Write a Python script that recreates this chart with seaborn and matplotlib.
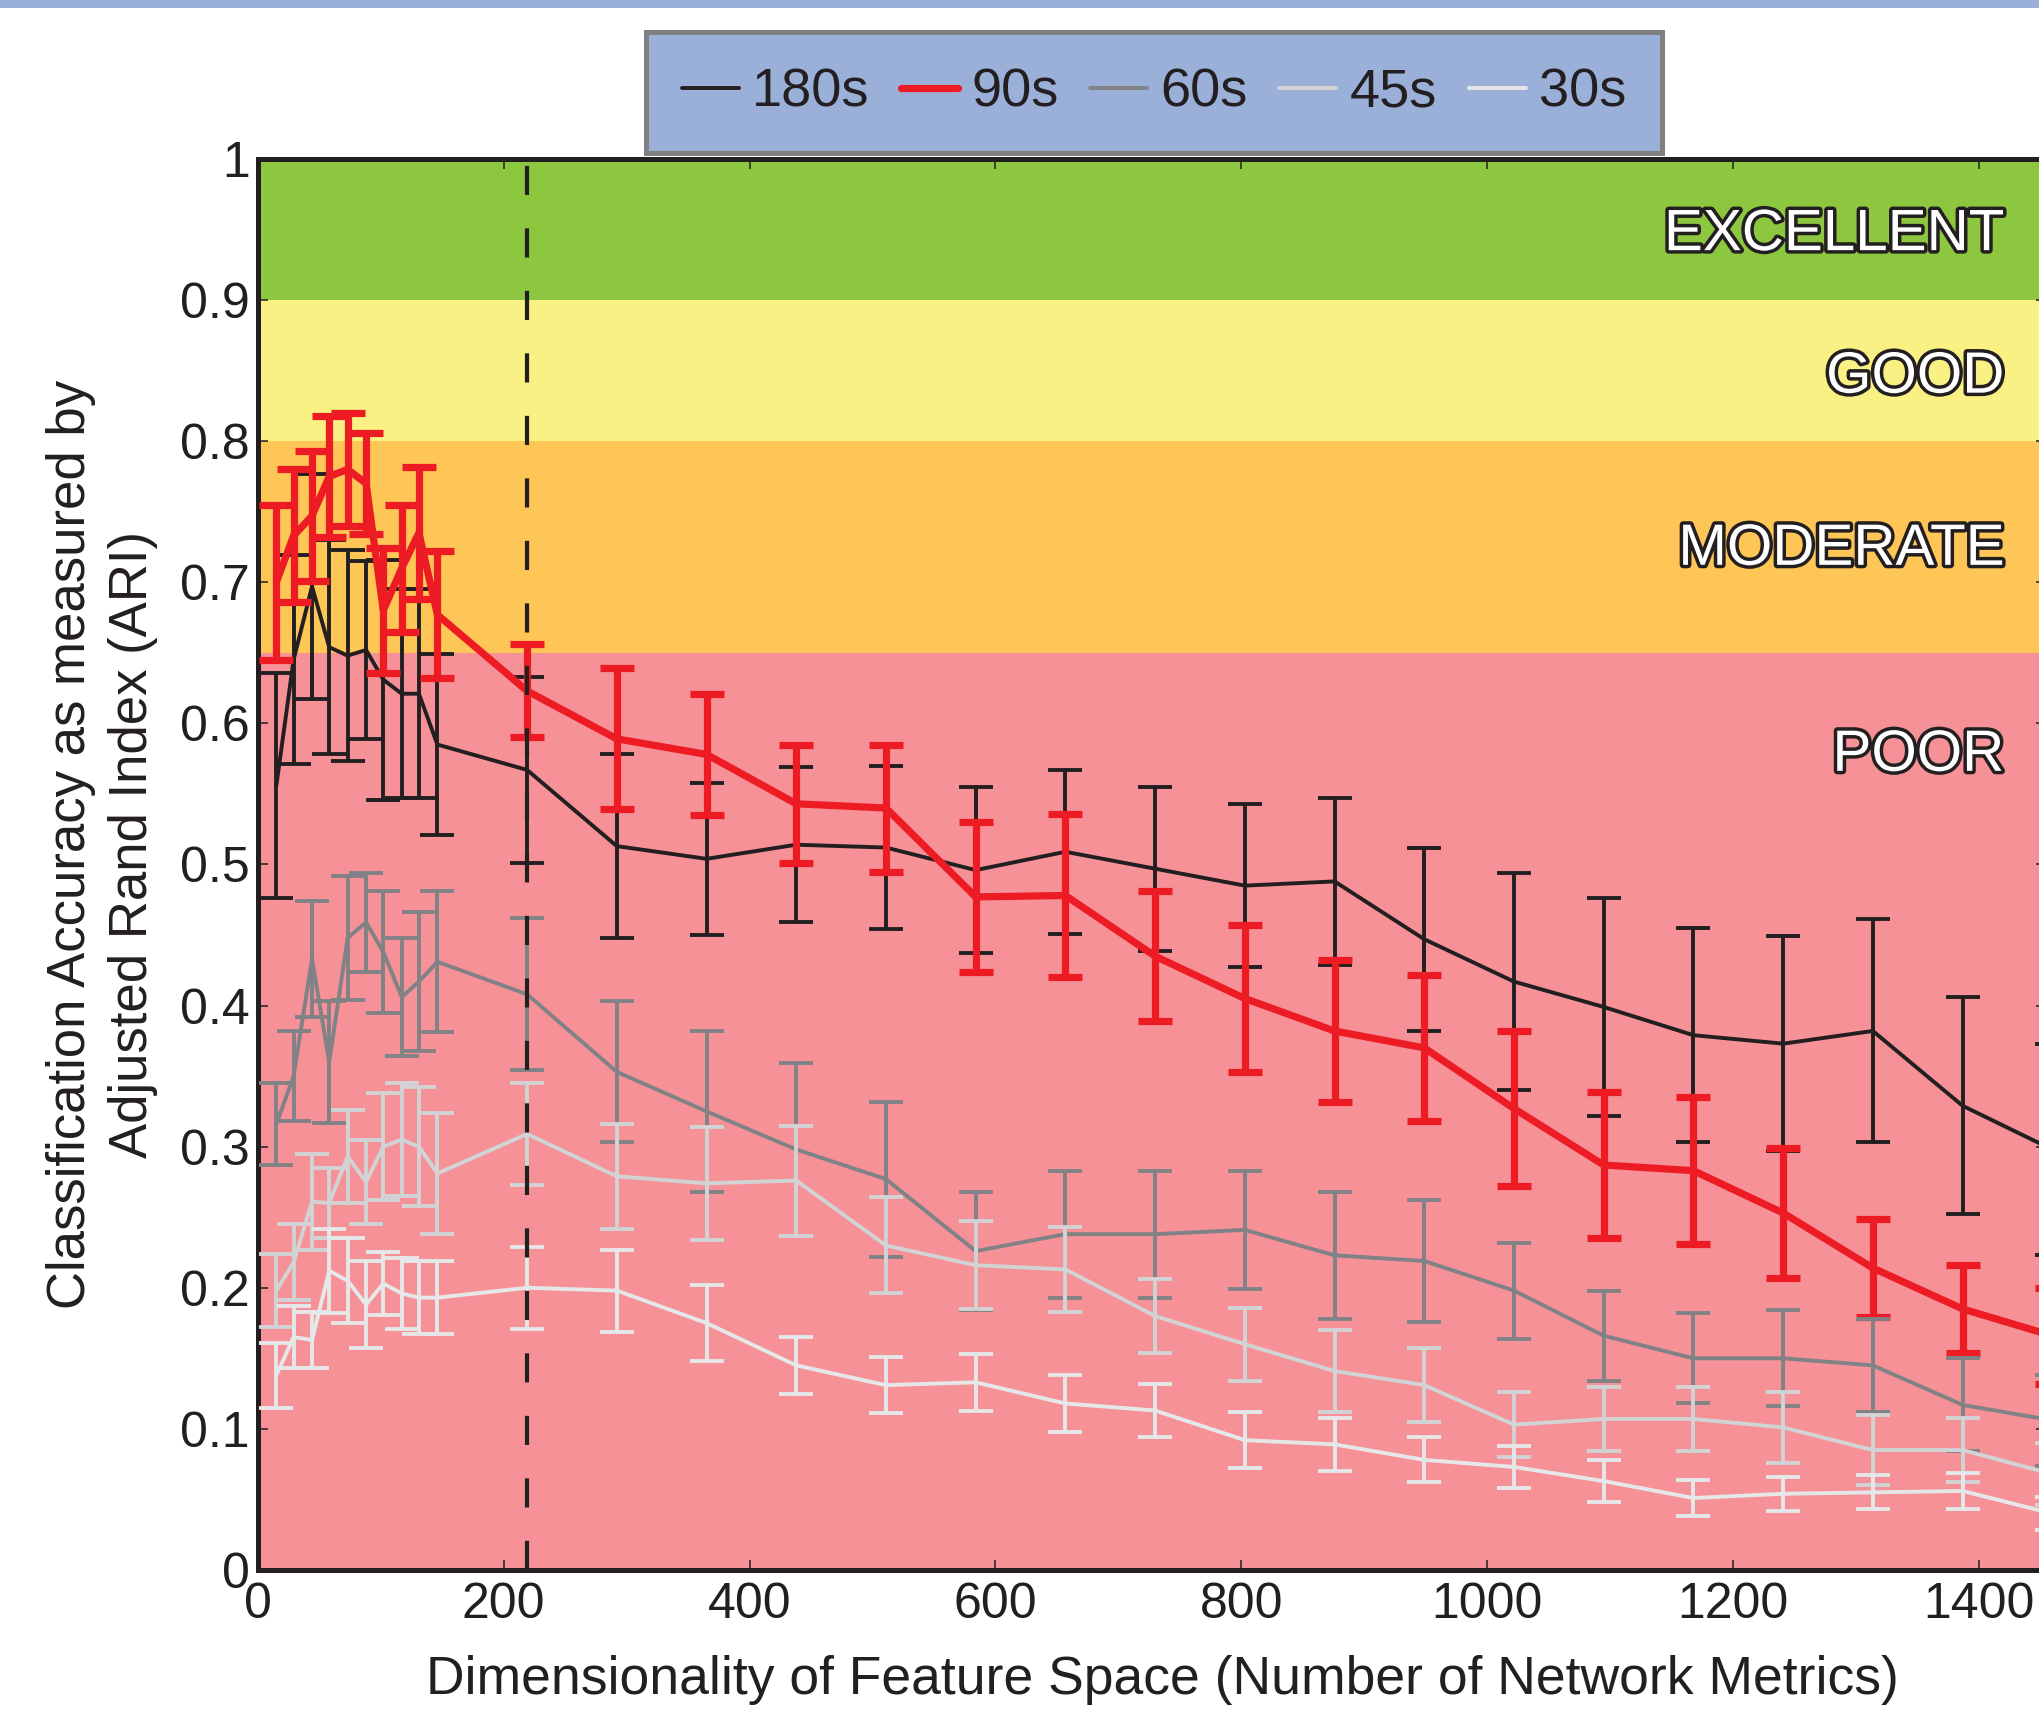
import matplotlib
matplotlib.use("Agg")
import matplotlib.pyplot as plt
import matplotlib.patheffects as pe
from matplotlib.lines import Line2D
from matplotlib.patches import Rectangle
import seaborn as sns

# ----------------------------
# Data
# ----------------------------
x_metrics = [15, 29, 44, 58, 73, 88, 102, 117, 131, 146, 219, 292, 365, 438,
             511, 584, 657, 730, 803, 876, 949, 1022, 1095, 1168, 1241, 1314,
             1387, 1460]

ari_180 = [0.556, 0.645, 0.697, 0.654, 0.648, 0.652, 0.631, 0.621, 0.621, 0.585,
           0.567, 0.513, 0.504, 0.514, 0.512, 0.496, 0.509, 0.497, 0.485, 0.488,
           0.447, 0.417, 0.399, 0.379, 0.373, 0.382, 0.329, 0.298]
err_180 = [0.080, 0.074, 0.080, 0.076, 0.075, 0.063, 0.085, 0.074, 0.074, 0.064,
           0.066, 0.065, 0.054, 0.055, 0.058, 0.059, 0.058, 0.058, 0.058, 0.059,
           0.065, 0.077, 0.077, 0.076, 0.076, 0.079, 0.077, 0.075]

ari_90 = [0.700, 0.733, 0.747, 0.775, 0.780, 0.770, 0.680, 0.710, 0.735, 0.677,
          0.623, 0.589, 0.578, 0.543, 0.540, 0.477, 0.478, 0.435, 0.405, 0.382,
          0.370, 0.327, 0.287, 0.283, 0.253, 0.214, 0.185, 0.166]
err_90 = [0.055, 0.047, 0.046, 0.043, 0.040, 0.036, 0.044, 0.045, 0.047, 0.045,
          0.033, 0.050, 0.043, 0.042, 0.045, 0.053, 0.058, 0.046, 0.052, 0.050,
          0.052, 0.055, 0.052, 0.052, 0.046, 0.035, 0.031, 0.034]

ari_60 = [0.316, 0.350, 0.433, 0.360, 0.448, 0.459, 0.438, 0.406, 0.417, 0.431,
          0.408, 0.353, 0.325, 0.298, 0.277, 0.226, 0.238, 0.238, 0.241, 0.223,
          0.219, 0.198, 0.166, 0.150, 0.150, 0.145, 0.117, 0.106]
err_60 = [0.029, 0.032, 0.041, 0.043, 0.044, 0.035, 0.043, 0.042, 0.049, 0.050,
          0.054, 0.050, 0.057, 0.061, 0.055, 0.042, 0.045, 0.045, 0.042, 0.045,
          0.043, 0.034, 0.032, 0.032, 0.034, 0.033, 0.033, 0.032]

ari_45 = [0.198, 0.218, 0.261, 0.260, 0.293, 0.275, 0.300, 0.305, 0.300, 0.281,
          0.309, 0.279, 0.274, 0.276, 0.230, 0.216, 0.213, 0.180, 0.160, 0.141,
          0.131, 0.103, 0.107, 0.107, 0.101, 0.085, 0.085, 0.068]
err_45 = [0.026, 0.027, 0.034, 0.025, 0.033, 0.030, 0.038, 0.040, 0.042, 0.043,
          0.036, 0.037, 0.040, 0.039, 0.034, 0.031, 0.030, 0.026, 0.026, 0.029,
          0.026, 0.023, 0.023, 0.023, 0.025, 0.025, 0.023, 0.022]

ari_30 = [0.138, 0.165, 0.163, 0.212, 0.205, 0.188, 0.203, 0.196, 0.193, 0.193,
          0.200, 0.198, 0.175, 0.145, 0.131, 0.133, 0.118, 0.113, 0.092, 0.089,
          0.078, 0.073, 0.063, 0.051, 0.054, 0.055, 0.056, 0.040]
err_30 = [0.023, 0.022, 0.020, 0.030, 0.030, 0.031, 0.022, 0.025, 0.026, 0.026,
          0.029, 0.029, 0.027, 0.020, 0.020, 0.020, 0.020, 0.019, 0.020, 0.019,
          0.016, 0.015, 0.015, 0.013, 0.012, 0.012, 0.013, 0.012]

series_labels = ["180s", "90s", "60s", "45s", "30s"]
series_colors = ["#231F20", "#ED1C24", "#808285", "#D1D3D4", "#E6E7E8"]

band_names = ["POOR", "MODERATE", "GOOD", "EXCELLENT"]
band_edges = [0, 0.65, 0.8, 0.9, 1.0]
band_colors = ["#F69198", "#FEC557", "#F9F183", "#8DC63F"]
band_label_y = [0.577, 0.723, 0.845, 0.946]

selected_dim = 219

x_ticks = [0, 200, 400, 600, 800, 1000, 1200, 1400]
y_ticks = [0, 0.1, 0.2, 0.3, 0.4, 0.5, 0.6, 0.7, 0.8, 0.9, 1.0]
y_tick_labels = ["0", "0.1", "0.2", "0.3", "0.4", "0.5", "0.6", "0.7", "0.8", "0.9", "1"]

# ----------------------------
# Style
# ----------------------------
sns.set_theme(style="ticks")
plt.rcParams['font.family'] = ['Liberation Sans', 'DejaVu Sans']
ink = "#231F20"

fig = plt.figure(figsize=(20.39, 17.13), dpi=100)
ax = fig.add_axes([0.1265, 0.0835, 0.877, 0.8237])

# quality bands
for lo, hi, c in zip(band_edges[:-1], band_edges[1:], band_colors):
    ax.axhspan(lo, hi, color=c, lw=0, zorder=0)

# series with error bars
all_y = [ari_180, ari_90, ari_60, ari_45, ari_30]
all_e = [err_180, err_90, err_60, err_45, err_30]
widths = [2.8, 5.2, 2.8, 2.8, 2.8]
for i, (lab, y, e, c, lw) in enumerate(zip(series_labels, all_y, all_e, series_colors, widths)):
    sns.lineplot(x=x_metrics, y=y, color=c, lw=lw, ax=ax, zorder=3 + i, legend=False)
    ax.errorbar(x_metrics, y, yerr=e, fmt='none', ecolor=c, elinewidth=lw,
                capsize=12.5, capthick=lw, zorder=3 + i)

# chosen dimensionality
ax.axvline(selected_dim, color=ink, lw=3, linestyle=(0, (7, 8)), zorder=10)

# band labels
for name, yv in zip(band_names, band_label_y):
    ax.text(1421, yv, name, ha='right', va='center', fontsize=42, color='white',
            path_effects=[pe.withStroke(linewidth=5, foreground=ink)], zorder=12)

ax.set_xlim(0, 1455)
ax.set_ylim(0, 1)
ax.set_xticks(x_ticks)
ax.set_xticklabels([str(t) for t in x_ticks])
ax.set_yticks(y_ticks)
ax.set_yticklabels(y_tick_labels)
ax.tick_params(direction='in', length=7, width=1.1, top=True, right=True,
               labelsize=36, colors=ink, pad=6)
ax.tick_params(axis='x', pad=9)
for s in ax.spines.values():
    s.set_linewidth(3.6)
    s.set_color(ink)

ax.set_xlabel("Dimensionality of Feature Space (Number of Network Metrics)",
              fontsize=38.5, color=ink)
ax.xaxis.set_label_coords(0.5056, -0.060)
ax.set_ylabel("Classification Accuracy as measured by\nAdjusted Rand Index (ARI)",
              fontsize=38, color=ink, linespacing=1.3)
ax.yaxis.set_label_coords(-0.056, 0.514)

# legend at the top
handles = [Line2D([], [], color=c, lw=lw) for c, lw in zip(series_colors, widths)]
leg = fig.legend(handles, series_labels, loc='center', bbox_to_anchor=(0.566, 0.946),
                 ncol=5, fontsize=39, frameon=True, fancybox=False, framealpha=1,
                 facecolor='#9BB0D8', edgecolor='#808080', handlelength=1.05,
                 handletextpad=0.25, columnspacing=0.58, borderpad=0.65,
                 borderaxespad=0)
leg.get_frame().set_linewidth(3.6)
for t in leg.get_texts():
    t.set_color(ink)

# thin blue strip along the top edge
fig.add_artist(Rectangle((0, 1 - 8 / 1713), 1, 8 / 1713, transform=fig.transFigure,
                         color='#9BB0D8', lw=0))

fig.savefig("out.png", dpi=100)
